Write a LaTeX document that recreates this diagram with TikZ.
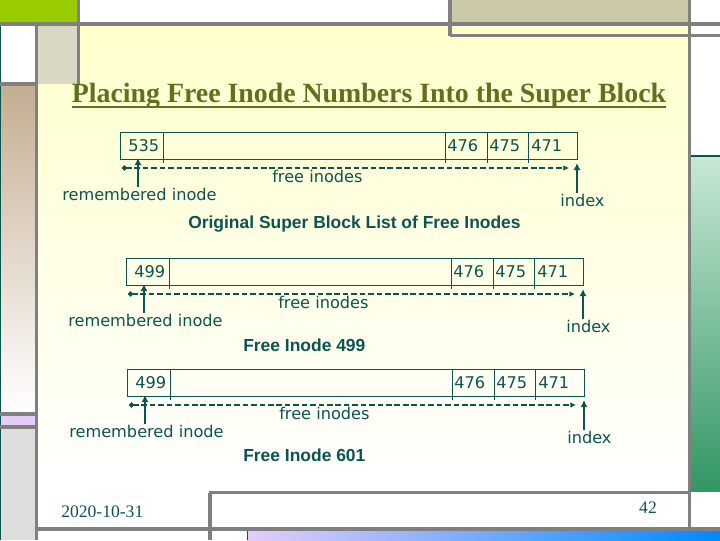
\documentclass[tikz,border=0pt]{standalone}
\usepackage{fontspec}
\setmainfont{Liberation Serif}
\newfontfamily\labelfont{DejaVu Sans}
\newfontfamily\headfont{Liberation Sans}
\usetikzlibrary{arrows.meta, positioning}
\definecolor{ink}{RGB}{12,84,80}
\definecolor{title-olive}{RGB}{96,112,28}
\definecolor{slide-gray}{RGB}{128,128,128}
\definecolor{slide-green}{RGB}{153,204,0}
\definecolor{slide-tan}{RGB}{204,201,168}
\definecolor{slide-sand}{RGB}{216,216,196}
\definecolor{slide-brown}{RGB}{196,174,146}
\definecolor{slide-pink}{RGB}{230,204,250}
\definecolor{slide-lgray}{RGB}{221,221,221}
\definecolor{slide-yellow}{RGB}{255,255,204}
\definecolor{slide-mint}{RGB}{200,232,212}
\definecolor{slide-jade}{RGB}{50,150,100}
\definecolor{slide-blue}{RGB}{0,136,255}

\begin{document}
\begin{tikzpicture}[x=0.025cm, y=-0.025cm,
  listbox/.style={draw=ink, line width=0.7pt, minimum width=11.425cm, minimum height=0.675cm, inner sep=0pt, anchor=north west},
  num/.style={font=\labelfont\fontsize{11.5}{13}\selectfont, text=ink, inner sep=0pt, anchor=west},
  lbl/.style={font=\labelfont\fontsize{11.5}{13}\selectfont, text=ink, inner sep=0pt, anchor=west},
  capline/.style={font=\headfont\bfseries\fontsize{12.4}{14}\selectfont, text=ink, inner sep=0pt, anchor=west},
  ptr/.style={-{Latex[length=5pt,width=5pt]}, line width=2pt, ink},
  freeln/.style={{Circle[length=3.5pt]}-{Latex[length=4pt,width=4pt]}, line width=1.4pt, dash pattern=on 4pt off 2pt, ink},
  grayln/.style={line width=2.8pt, slide-gray},
]
  \useasboundingbox (0,0) rectangle (720,540);

  % slide background
  \fill[white] (0,0) rectangle (720,540);
  \shade[top color=slide-yellow, bottom color=white] (38,26) rectangle (689,492);
  \fill[slide-green] (0,0) rectangle (77,22);
  \fill[slide-tan] (451,0) rectangle (688,22);
  \fill[slide-sand] (38,26) rectangle (77,84);
  \shade[top color=slide-brown, bottom color=white] (0,85) rectangle (35,413);
  \fill[slide-pink] (0,415) rectangle (35,426);
  \fill[slide-lgray] (0,428) rectangle (35,540);
  \shade[top color=slide-mint, bottom color=slide-jade] (691,157) rectangle (720,491);
  \draw[ink, line width=1.4pt] (691,156) -- (720,156);
  \shade[left color=slide-pink, right color=slide-blue] (247,531) rectangle (720,540);
  \draw[ink, line width=0.6pt] (0.3,26) -- (0.3,540);
  \draw[ink, line width=0.5pt] (247,531) -- (247,540);

  % frame lines
  \draw[grayln] (0,24) -- (720,24);
  \draw[grayln] (78.5,0) -- (78.5,84);
  \draw[grayln] (0,84) -- (36.5,84);
  \draw[grayln] (0,414) -- (36.5,414);
  \draw[grayln] (0,427) -- (36.5,427);
  \draw[grayln] (36.5,24) -- (36.5,540);
  \draw[grayln] (450,0) -- (450,36);
  \draw[grayln] (450,35.5) -- (720,35.5);
  \draw[grayln] (689.5,0) -- (689.5,529);
  \draw[grayln] (209,492.5) -- (689.5,492.5);
  \draw[grayln] (210,492.5) -- (210,540);
  \draw[grayln] (36.5,529) -- (720,529);

  % title
  \node[font=\bfseries\fontsize{19.8}{22}\selectfont, text=title-olive, inner sep=0pt, anchor=base] (title) at (369,102)
    {Placing Free Inode Numbers Into the Super Block};
  \draw[title-olive, line width=1.4pt] ([yshift=-3.6pt]title.base west) -- ([yshift=-3.6pt]title.base east);

  % three snapshots of the list
  \foreach \i/\bx/\by/\fnum/\hx/\hy/\capt in {
      1/120/132/535/68/92/Original Super Block List of Free Inodes,
      2/126/258/499/117/87/Free Inode 499,
      3/127/369/499/116/86/Free Inode 601}{
    \begin{scope}[shift={(\bx,\by)}]
      \node[listbox] (box\i) at (0,0) {};
      \foreach \dx in {43,325,367,408}
        \draw[ink, line width=0.7pt] (\dx,0) -- (\dx,31);
      \node[num] (first\i) at (8,13.5) {\fnum};
      \node[num] (a\i) at (327,13.5) {476};
      \node[num] (b\i) at (369,13.5) {475};
      \node[num] (c\i) at (411,13.5) {471};

      \coordinate (dl\i) at (2,36);
      \coordinate (dr\i) at (449,36);
      \draw[freeln] (dl\i) -- (dr\i);

      \node[lbl] (rem\i) at (-58,62) {remembered inode};
      \node[lbl] (free\i) at (152,44) {free inodes};
      \node[lbl] (idx\i) at (440,68) {index};
      \node[capline] (cap\i) at (\hx,\hy) {\capt};

      \coordinate (remtip\i) at (18,26);
      \coordinate (idxtip\i) at (457,31);
      \draw[ptr] (rem\i.north -| remtip\i) -- (remtip\i);
      \draw[ptr] (idx\i.north -| idxtip\i) -- (idxtip\i);
    \end{scope}
  }

  % footer
  \node[font=\fontsize{12.5}{14}\selectfont, text=ink, inner sep=0pt, anchor=west] (date) at (61,512) {2020-10-31};
  \node[font=\fontsize{12.5}{14}\selectfont, text=ink, inner sep=0pt] (page) at (648,508) {42};
\end{tikzpicture}
\end{document}
